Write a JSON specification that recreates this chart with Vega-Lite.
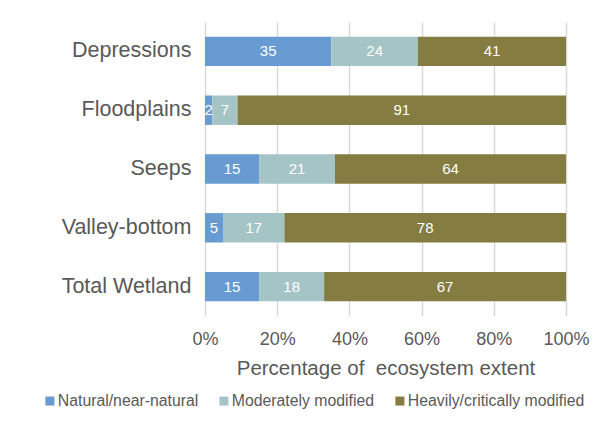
{
  "$schema": "https://vega.github.io/schema/vega-lite/v6.json",
  "width": 361,
  "height": 294,
  "autosize": {"type": "none"},
  "padding": {"left": 205, "top": 22, "right": 32, "bottom": 107},
  "background": "white",
  "config": {"view": {"stroke": null}, "font": "Liberation Sans"},
  "data": {"values": [
    {"category": "Depressions", "condition": "Natural/near-natural", "order": 1, "value": 35},
    {"category": "Depressions", "condition": "Moderately modified", "order": 2, "value": 24},
    {"category": "Depressions", "condition": "Heavily/critically modified", "order": 3, "value": 41},
    {"category": "Floodplains", "condition": "Natural/near-natural", "order": 1, "value": 2},
    {"category": "Floodplains", "condition": "Moderately modified", "order": 2, "value": 7},
    {"category": "Floodplains", "condition": "Heavily/critically modified", "order": 3, "value": 91},
    {"category": "Seeps", "condition": "Natural/near-natural", "order": 1, "value": 15},
    {"category": "Seeps", "condition": "Moderately modified", "order": 2, "value": 21},
    {"category": "Seeps", "condition": "Heavily/critically modified", "order": 3, "value": 64},
    {"category": "Valley-bottom", "condition": "Natural/near-natural", "order": 1, "value": 5},
    {"category": "Valley-bottom", "condition": "Moderately modified", "order": 2, "value": 17},
    {"category": "Valley-bottom", "condition": "Heavily/critically modified", "order": 3, "value": 78},
    {"category": "Total Wetland", "condition": "Natural/near-natural", "order": 1, "value": 15},
    {"category": "Total Wetland", "condition": "Moderately modified", "order": 2, "value": 18},
    {"category": "Total Wetland", "condition": "Heavily/critically modified", "order": 3, "value": 67}
  ]},
  "transform": [
    {"stack": "value", "groupby": ["category"], "sort": [{"field": "order", "order": "ascending"}], "as": ["x0", "x1"]},
    {"calculate": "(datum.x0 + datum.x1) / 2", "as": "mid"}
  ],
  "encoding": {
    "y": {
      "field": "category", "type": "nominal",
      "sort": ["Depressions", "Floodplains", "Seeps", "Valley-bottom", "Total Wetland"],
      "scale": {"paddingInner": 0.5, "paddingOuter": 0.25},
      "axis": {"title": null, "domain": false, "ticks": false, "labelFontSize": 21.5, "labelColor": "#595959", "labelPadding": 14, "labelFont": "Liberation Sans", "labelLimit": 0}
    }
  },
  "layer": [
    {
      "mark": {"type": "bar"},
      "encoding": {
        "x": {
          "field": "x0", "type": "quantitative",
          "scale": {"domain": [0, 100], "nice": false},
          "axis": {
            "title": "Percentage of\u00a0 ecosystem extent",
            "titleFontSize": 20.5, "titleFontWeight": "normal", "titleColor": "#595959", "titlePadding": 10,
            "values": [0, 20, 40, 60, 80, 100],
            "labelExpr": "datum.value + '%'",
            "labelFontSize": 18, "labelColor": "#595959", "labelPadding": 14, "labelFlush": false,
            "domain": false, "ticks": false,
            "grid": true, "gridColor": "#d9d9d9", "gridWidth": 1.5
          }
        },
        "x2": {"field": "x1"},
        "color": {
          "field": "condition", "type": "nominal",
          "scale": {
            "domain": ["Natural/near-natural", "Moderately modified", "Heavily/critically modified"],
            "range": ["#679bd2", "#a4c4c6", "#847c40"]
          },
          "legend": {
            "title": null, "orient": "none", "direction": "horizontal",
            "legendX": -163, "legendY": 371,
            "symbolType": "square", "symbolSize": 81, "symbolStrokeWidth": 0,
            "labelFontSize": 15.8, "labelColor": "#595959", "columnPadding": 17, "labelOffset": 0, "labelLimit": 0
          }
        }
      }
    },
    {
      "mark": {"type": "text", "color": "white", "fontSize": 15},
      "encoding": {
        "x": {"field": "mid", "type": "quantitative"},
        "text": {"field": "value", "type": "quantitative"}
      }
    }
  ]
}
